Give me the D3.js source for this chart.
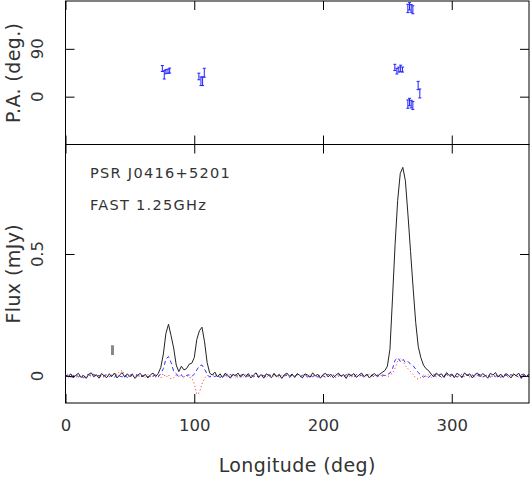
<!DOCTYPE html>
<html><head><meta charset="utf-8">
<script src="https://cdn.jsdelivr.net/npm/d3@7"></script>
<style>
html,body{margin:0;padding:0;background:#fff;}
svg{display:block;}
text{font-family:"DejaVu Sans",sans-serif;fill:#333;}
</style></head>
<body>
<script>
// ---------- DATA ----------
const lonStep = 2; // profile bin spacing in degrees (0..360)
const totalI = [0.006,-0.004,0.009,-0.008,0.003,0.011,-0.006,0.002,-0.010,0.007,
0.013,-0.003,0.005,-0.009,0.010,0.001,-0.007,0.008,-0.002,0.012,
-0.008,0.004,0.014,-0.005,0.009,-0.003,0.006,-0.010,0.002,0.011,
-0.004,0.007,-0.008,0.005,0.012,-0.002,0.010,0.035,0.090,0.175,
0.212,0.165,0.115,0.045,0.018,0.040,0.025,0.030,0.048,0.052,
0.075,0.150,0.185,0.200,0.140,0.055,0.012,0.004,0.016,-0.004,
0.009,-0.006,0.011,0.003,-0.009,0.007,0.001,0.012,-0.005,0.008,
-0.002,0.010,-0.008,0.004,0.013,-0.004,0.006,-0.009,0.009,0.002,
-0.007,0.011,-0.003,0.007,-0.010,0.005,0.012,-0.001,0.008,-0.006,
0.010,0.002,-0.008,0.009,0.004,-0.005,0.013,0.000,0.007,-0.009,
0.006,0.011,-0.004,0.008,-0.007,0.003,0.012,-0.002,0.006,-0.010,
0.009,0.001,0.010,-0.006,0.005,0.012,-0.003,0.008,-0.008,0.004,
0.010,-0.002,0.007,0.015,0.022,0.040,0.110,0.320,0.540,0.720,
0.830,0.855,0.800,0.660,0.510,0.360,0.220,0.120,0.075,0.045,
0.030,0.022,0.008,-0.004,0.012,0.003,0.009,-0.006,0.014,0.002,
0.008,-0.007,0.011,0.004,-0.005,0.013,0.001,0.009,-0.008,0.006,
0.012,-0.003,0.010,0.002,-0.009,0.011,0.004,0.014,-0.004,0.008,
-0.006,0.010,0.003,-0.008,0.009,0.001,0.012,-0.010,0.006,-0.002,
0.008];
const polBlue = [-0.003,0.005,-0.006,0.002,0.007,-0.004,0.001,-0.008,0.004,0.006,
-0.002,0.008,-0.005,0.003,-0.007,0.002,0.006,-0.003,0.004,-0.006,
0.007,0.000,-0.004,0.005,-0.007,0.003,0.008,-0.002,0.004,-0.006,
0.001,0.006,-0.005,0.003,-0.002,0.005,-0.004,0.010,0.030,0.070,
0.080,0.055,0.020,0.010,-0.004,0.003,-0.006,0.002,0.005,-0.003,
0.008,0.025,0.042,0.045,0.028,0.008,-0.005,0.004,-0.003,0.006,
-0.007,0.002,0.005,-0.004,0.007,-0.002,0.004,-0.006,0.003,0.006,
-0.005,0.002,0.007,-0.003,0.004,-0.007,0.005,0.001,-0.004,0.006,
-0.002,0.008,-0.005,0.003,-0.006,0.004,0.002,-0.007,0.005,-0.001,
0.006,-0.004,0.003,0.007,-0.005,0.002,-0.003,0.006,-0.006,0.004,
0.001,-0.005,0.007,-0.002,0.004,-0.007,0.005,0.002,-0.004,0.006,
-0.003,0.004,-0.006,0.007,-0.001,0.003,-0.005,0.006,-0.002,0.004,
-0.006,0.005,-0.003,0.004,0.002,0.006,0.012,0.030,0.065,0.075,
0.060,0.070,0.055,0.060,0.048,0.042,0.028,0.014,0.004,-0.005,
0.003,-0.006,0.004,0.007,-0.003,0.005,-0.006,0.002,0.006,-0.004,
0.003,0.008,-0.005,0.002,-0.007,0.004,0.006,-0.002,0.005,-0.006,
0.003,0.007,-0.004,0.001,0.006,-0.005,0.004,-0.003,0.007,-0.006,
0.002,0.005,-0.004,0.006,-0.002,0.004,-0.007,0.005,0.008,-0.003,
0.004];
const polRed = [0.004,-0.005,0.002,0.007,-0.006,0.003,-0.002,0.006,-0.007,0.001,
0.005,-0.004,0.008,-0.003,0.002,-0.006,0.005,0.009,-0.004,0.012,
0.006,0.018,0.022,0.008,-0.005,0.003,-0.006,0.004,0.007,-0.003,
0.002,-0.005,0.006,-0.002,0.004,-0.006,0.003,-0.008,0.010,-0.006,
0.005,-0.012,-0.008,0.004,-0.003,0.006,-0.004,0.002,-0.006,-0.008,
-0.030,-0.075,-0.068,-0.032,-0.010,0.003,-0.004,0.006,0.010,-0.003,
0.004,-0.006,0.002,0.007,-0.004,0.003,-0.007,0.005,0.001,-0.005,
0.006,-0.002,0.004,-0.006,0.007,0.000,-0.004,0.005,-0.007,0.003,
0.006,-0.003,0.002,-0.006,0.005,-0.001,0.007,-0.005,0.003,-0.004,
0.006,0.001,-0.006,0.004,-0.002,0.007,-0.005,0.003,-0.003,0.005,
-0.007,0.002,0.006,-0.004,0.004,0.009,-0.002,0.003,-0.006,0.005,
0.010,-0.004,0.002,-0.005,0.006,0.001,-0.006,0.004,0.008,-0.003,
0.002,-0.005,0.006,-0.002,0.004,-0.004,0.003,0.012,0.032,0.060,
0.072,0.062,0.042,0.030,0.018,0.006,-0.008,-0.014,-0.006,0.003,
-0.004,0.005,-0.006,0.002,0.007,-0.003,0.004,-0.005,0.006,0.001,
-0.004,0.005,-0.006,0.003,0.008,-0.002,0.004,-0.005,0.002,0.006,
-0.003,0.005,-0.007,0.003,0.000,0.006,-0.004,0.004,-0.006,0.007,
-0.002,0.003,-0.005,0.006,0.002,-0.004,0.005,-0.006,0.003,0.007,
-0.002];
// position angle measurements
const paLon = [75.2,76.7,78.0,79.6,80.9,103.6,105.2,106.5,107.8,255.8,257.4,258.9,260.3,261.8,265.9,267.2,268.5,269.8,273.9,275.2];
const paVal = [53,41,47,48,49,38,29,29,45,55,48,51,53,51,166,170,166,163.5,21,6];
const paErr = [5.6,7.8,3.8,3.8,4.7,6.2,8.1,8.1,8.4,5.9,5.3,4.7,6.2,4.7,7.8,6.9,7.2,7.5,7.8,8.4];
// noise-level indicator
const noiseBar = {lon: 36.5, flux: 0.106, sigma: 0.02};
const xTicks = [0,100,200,300];
const paTicks = [0,90];
const fluxTicks = [0,0.5];
const title1 = "PSR J0416+5201";
const title2 = "FAST 1.25GHz";

// ---------- LAYOUT ----------
const W = 532, H = 479;
const L = 65.5, R = 529, T = 1, MID = 144.5, B = 403;
const svg = d3.select("body").append("svg").attr("width", W).attr("height", H);
svg.append("rect").attr("width", W).attr("height", H).attr("fill", "#fff");

const x = d3.scaleLinear().domain([0,360]).range([L,R]);
const yPA = d3.scaleLinear().domain([-90,180]).range([MID,T]);
const yF = d3.scaleLinear().domain([-0.1107,0.9488]).range([B,MID]);

const minorX = d3.range(0, 361, 20);

function frame(top, bottom, yScale, yTickVals, yFmt, showXLabels){
  const g = svg.append("g");
  // x axes bottom & top (inward)
  const ab = g.append("g").attr("transform", `translate(0,${bottom})`);
  ab.call(d3.axisBottom(x).tickValues(minorX).tickSize(-4.5).tickFormat(""));
  ab.call(d3.axisBottom(x).tickValues(xTicks).tickSize(-9).tickFormat(showXLabels? d3.format("d") : ""));
  const at = g.append("g").attr("transform", `translate(0,${top})`);
  at.call(d3.axisTop(x).tickValues(minorX).tickSize(-4.5).tickFormat(""));
  at.call(d3.axisTop(x).tickValues(xTicks).tickSize(-9).tickFormat(""));
  const al = g.append("g").attr("transform", `translate(${L},0)`);
  al.call(d3.axisLeft(yScale).tickValues(yTickVals).tickSize(-9).tickFormat(""));
  const ar = g.append("g").attr("transform", `translate(${R},0)`);
  ar.call(d3.axisRight(yScale).tickValues(yTickVals).tickSize(-9).tickFormat(""));
  g.selectAll(".domain").attr("stroke", "#000").attr("stroke-width", 1);
  g.selectAll(".tick line").attr("stroke", "#000").attr("stroke-width", 1);
  if (showXLabels) {
    ab.selectAll(".tick text").attr("y", 16).attr("dy", "0.71em")
      .style("font-family", '"DejaVu Sans",sans-serif').style("font-size", "16.5px").attr("fill", "#333");
  }
  // rotated y tick labels
  g.selectAll(".ylab").data(yTickVals).enter().append("text")
    .attr("transform", d => `translate(43,${yScale(d)}) rotate(-90)`)
    .attr("text-anchor", "middle").style("font-size", "16.5px").text(yFmt);
  g.selectAll("path.domain").remove();
  g.append("rect").attr("x", L).attr("y", top).attr("width", R-L).attr("height", bottom-top)
    .attr("fill", "none").attr("stroke", "#000").attr("stroke-width", 1);
}
frame(T, MID, yPA, paTicks, d => d3.format("d")(d), false);
frame(MID, B, yF, fluxTicks, d => d === 0 ? "0" : d3.format(".1f")(d), true);

// ---------- PROFILE ----------
const clipId = "clipF";
svg.append("clipPath").attr("id", clipId).append("rect").attr("x", L).attr("y", MID).attr("width", R-L).attr("height", B-MID);
const pg = svg.append("g").attr("clip-path", `url(#${clipId})`);
const line = d3.line().x((d,i) => x(i*lonStep)).y(d => yF(d));
pg.append("path").datum(polRed).attr("d", line).attr("fill", "none")
  .attr("stroke", "#ff2020").attr("stroke-width", 1).attr("stroke-dasharray", "1,2.5");
pg.append("path").datum(polBlue).attr("d", line).attr("fill", "none")
  .attr("stroke", "#3030ff").attr("stroke-width", 1).attr("stroke-dasharray", "4,3");
pg.append("path").datum(totalI).attr("d", line).attr("fill", "none")
  .attr("stroke", "#222").attr("stroke-width", 1);

// noise bar
svg.append("line").attr("x1", x(noiseBar.lon)).attr("x2", x(noiseBar.lon))
  .attr("y1", yF(noiseBar.flux - noiseBar.sigma)).attr("y2", yF(noiseBar.flux + noiseBar.sigma))
  .attr("stroke", "#888").attr("stroke-width", 3);

// ---------- PA ----------
const paPts = [];
paLon.forEach((l,i) => {
  [paVal[i], paVal[i]-180, paVal[i]+180].forEach(v => {
    if (v >= -90 && v <= 180) paPts.push({lon: l, pa: v, err: paErr[i]});
  });
});
const eg = svg.append("g").attr("stroke", "#2020ff").attr("stroke-width", 1).attr("fill", "none");
paPts.forEach(p => {
  const cx = x(p.lon), y0 = yPA(p.pa - p.err), y1 = yPA(p.pa + p.err);
  eg.append("line").attr("x1", cx).attr("x2", cx).attr("y1", y0).attr("y2", y1);
  eg.append("line").attr("x1", cx-1.5).attr("x2", cx+1.5).attr("y1", y0).attr("y2", y0);
  eg.append("line").attr("x1", cx-1.5).attr("x2", cx+1.5).attr("y1", y1).attr("y2", y1);
});

// ---------- TEXT ----------
svg.append("text").attr("x", 90).attr("y", 178).style("font-size", "14.5px").style("letter-spacing", "1.3px").text(title1);
svg.append("text").attr("x", 90).attr("y", 210).style("font-size", "14.5px").style("letter-spacing", "1.3px").text(title2);
svg.append("text").attr("x", (L+R)/2).attr("y", 472).attr("text-anchor", "middle").style("font-size", "19px").style("letter-spacing", "0.4px").text("Longitude (deg)");
svg.append("text").attr("transform", `translate(20,${(MID+B)/2}) rotate(-90)`).attr("text-anchor", "middle").style("font-size", "19px").style("letter-spacing", "0.4px").text("Flux (mJy)");
svg.append("text").attr("transform", `translate(20,${(T+MID)/2}) rotate(-90)`).attr("text-anchor", "middle").style("font-size", "19px").style("letter-spacing", "0.4px").text("P.A. (deg.)");
</script>
</body></html>
